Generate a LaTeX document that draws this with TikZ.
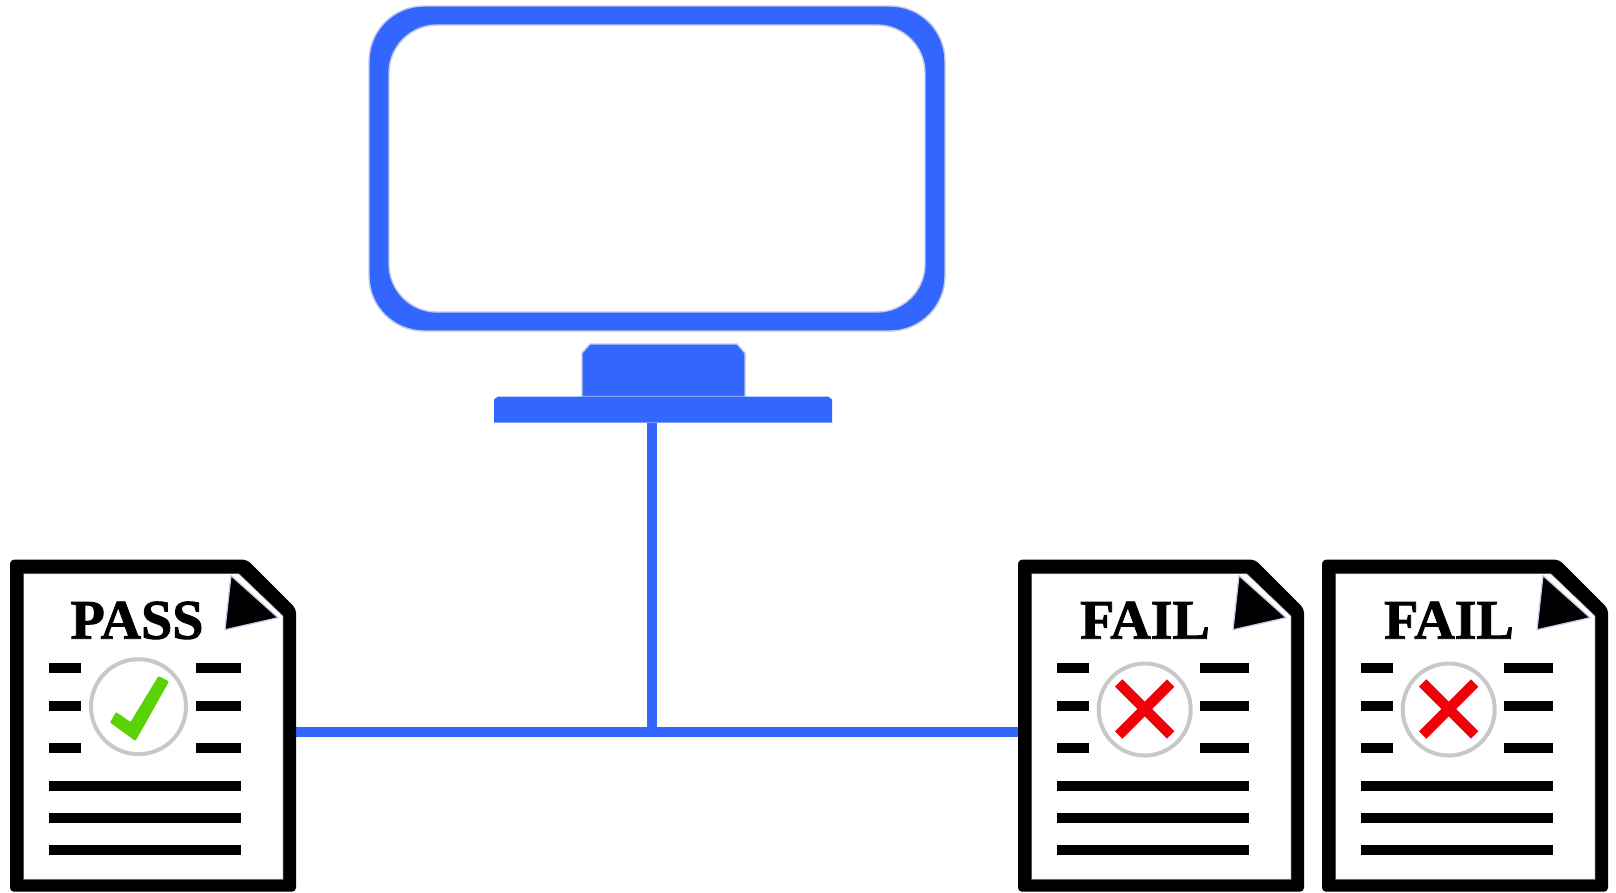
\documentclass[tikz,border=0pt]{standalone}
\usepackage{fontspec}
\setmainfont{Liberation Serif}[BoldFeatures={FakeBold=1.6}]
\definecolor{mblue}{HTML}{3366FF}
\definecolor{medge}{HTML}{BFCAE6}
\definecolor{ringgrey}{HTML}{C8C8C8}
\definecolor{okgreen}{HTML}{5BD203}
\definecolor{badred}{HTML}{F00008}
\tikzset{
  x=1pt,y=-1pt,
  mshape/.style={fill=mblue,draw=medge,line width=1.4pt},
  docrule/.style={fill=black,draw=none},
  ring/.style={draw=ringgrey,line width=4pt,fill=white},
  bus/.style={draw=mblue,line width=10pt},
  doctext/.style={font=\bfseries\fontsize{56}{56}\selectfont,inner sep=0pt,anchor=base},
  cross/.style={draw=badred,line width=10.5pt}
}
% #1 x offset, #2 name, #3 label, #4 label centre, #5 right short start
\newcommand{\docsheet}[5]{%
  \begin{scope}[shift={(#1,0.7)}]
    \fill[black,rounded corners=4pt] (10,559) -- (247,559) -- (296,608) -- (296,891) -- (10,891) -- cycle;
    \fill[white,draw=black!70,line width=.5pt] (23.5,573) -- (239,573) -- (283,615) -- (283,879) -- (23.5,879) -- cycle;
    \draw[fill=black,draw=medge,line width=1.2pt] (231,575) -- (278,617) -- (225,629) -- cycle;
    \node[doctext] (#2) at (#4,638) {#3};
    \foreach \yy in {662,700,742}{
      \fill[docrule] (49,\yy) rectangle (81,\yy+10);
      \fill[docrule] (#5,\yy) rectangle (241,\yy+10);
    }
    \foreach \yy in {780,812,844}{
      \fill[docrule] (49,\yy) rectangle (241,\yy+10);
    }
  \end{scope}}
\begin{document}
\begin{tikzpicture}
\useasboundingbox (0,0) rectangle (1616,892);
\fill[white] (0,0) rectangle (1616,892);
% monitor
\draw[mshape,rounded corners=55pt] (369,6) rectangle (945,331);
\draw[fill=white,draw=medge,line width=1.4pt,rounded corners=48pt] (389,25) rectangle (925,312);
\draw[mshape] (582,396.5) -- (582,353) -- (590,344) -- (737,344) -- (745,353) -- (745,396.5) -- cycle;
\fill[mblue] (494,422.7) -- (494,399.5) -- (498,396.5) -- (828,396.5) -- (832,399.5) -- (832,422.7) -- cycle;
% connectors
\coordinate (baseB) at (652,422.7);
\coordinate (passR) at (296,731.7);
\coordinate (failL) at (1019,731.7);
\coordinate (junction) at (652,731.7);
\draw[bus] (passR) -- (failL);
\draw[bus] (baseB) -- (junction);
% documents
\docsheet{0}{passlabel}{PASS}{137}{196}
\docsheet{1008}{failone}{FAIL}{137}{192}
\docsheet{1312}{failtwo}{FAIL}{137}{192}
% pass badge
\draw[ring] (138.5,706.7) circle (47.5);
\fill[okgreen,rounded corners=1pt] (158.5,676) -- (169,681.5) -- (135.5,741) -- (110,722.5) -- (116,712) -- (130.5,722) -- cycle;
% fail badges
\foreach \cx in {1144.7,1448.7}{
  \draw[ring] (\cx,709.5) circle (46);
  \draw[cross] (\cx-26,683) -- (\cx+26,735);
  \draw[cross] (\cx+26,683) -- (\cx-26,735);
}
\end{tikzpicture}
\end{document}
